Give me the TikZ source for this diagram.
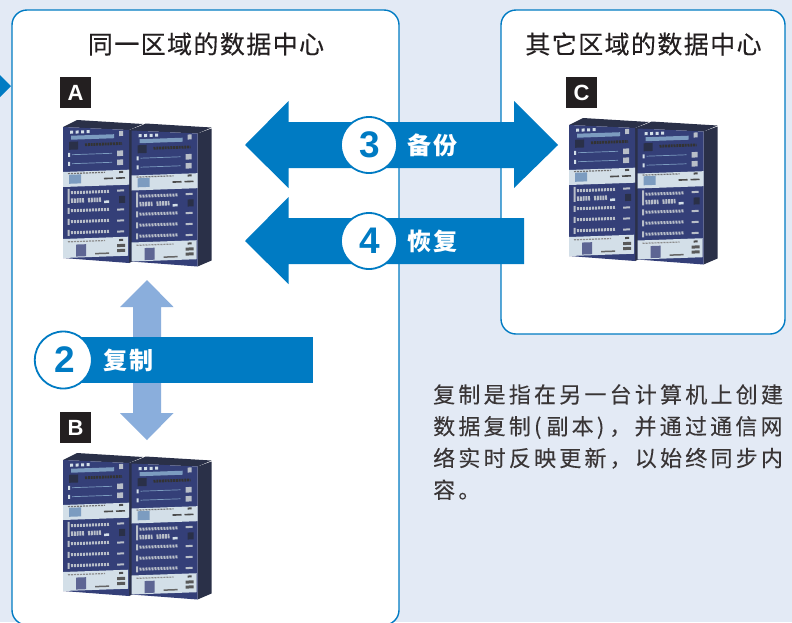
\documentclass[tikz,border=0pt]{standalone}
\usepackage{fontspec}
\setmainfont{Noto Sans CJK SC}
\newfontfamily\latinbold{Liberation Sans Bold}
\definecolor{bgblue}{HTML}{E3EAF5}
\definecolor{mainblue}{HTML}{007BC3}
\definecolor{lightblue}{HTML}{8AAEDC}
\definecolor{inkdark}{HTML}{231F20}
\definecolor{rackfront}{HTML}{343F78}
\definecolor{racktop}{HTML}{2A3048}
\definecolor{rackside}{HTML}{2A3048}
\definecolor{rackpale}{HTML}{D3DFE8}
\definecolor{rackstrip}{HTML}{B8BEC8}
\definecolor{rackbar}{HTML}{7C9CC0}
\tikzset{
  panel/.style={draw=mainblue,line width=1.4pt,fill=white,rounded corners=15pt},
  bigarrow/.style={fill=mainblue,draw=none},
  softarrow/.style={fill=lightblue,draw=none},
  numdisc/.style={circle,draw=mainblue,line width=1.8pt,fill=white,minimum size=56pt,inner sep=0pt,text=mainblue,font=\fontsize{37}{37}\selectfont\latinbold},
  tag/.style={fill=inkdark,minimum size=31pt,inner sep=0pt,text=white,font=\fontsize{22}{22}\selectfont\latinbold},
  heading/.style={inner sep=0pt,text=inkdark,font=\fontsize{25}{25}\selectfont\addfontfeature{LetterSpace=5.6,FakeBold=0.25}},
  barlabel/.style={inner sep=0pt,text=white,anchor=west,font=\fontsize{24}{24}\selectfont\bfseries\addfontfeature{LetterSpace=9}},
  strip/.style={draw=rackstrip,line width=3pt,dash pattern=on 2pt off 1pt},
  shortstrip/.style={draw=rackstrip,line width=4.5pt,dash pattern=on 2pt off 0.8pt},
  darkstrip/.style={draw=black!80,line width=2.8pt,dash pattern=on 2pt off 0.8pt},
  thinstrip/.style={draw=rackbar,line width=0.7pt},
  palebit/.style={fill=rackpale,draw=none},
  darkbit/.style={fill=racktop,draw=none},
  rackunit/.pic={
    \fill[rackside] (66,3) -- (80,-2) -- (80,130) -- (66,136) -- cycle;
    \fill[racktop] (0,0) -- (14,-7) -- (80,-3) -- (66,3) -- cycle;
    \fill[rackfront] (0,0) -- (66,3) -- (66,136) -- (0,131) -- cycle;
    \begin{scope}[yslant=0.035]
      \foreach \i in {0,1,2,3} \fill[palebit] (7+\i*5.5,4) rectangle ++(3,3);
      \fill[rackbar] (8,9) rectangle (51,13);
      \fill[rackstrip] (56,6) rectangle (60,11);
      \fill[darkbit] (6,15) rectangle (15,23);
      \draw[darkstrip] (22,18.5) -- (59,18.5);
      \fill[palebit] (5,26) rectangle (7,30);
      \draw[thinstrip] (9,28) -- (49,28);
      \fill[rackstrip] (54,25.5) rectangle (60,31);
      \fill[palebit] (5,35) rectangle (7,39);
      \draw[thinstrip] (9,37) -- (49,37);
      \fill[rackstrip] (54,34.5) rectangle (60,40);
      \fill[rackpale] (0,45) rectangle (66,60);
      \fill[rackbar] (6,48) rectangle (18,57);
      \draw[draw=black!55,line width=1.2pt,dash pattern=on 2pt off 1pt] (5,46.8) -- (42,46.8);
      \draw[draw=black!70,line width=1.6pt] (41,53) -- (50,53) (53,53) -- (62,53);
      \fill[black!70] (56,46) rectangle (60,48);
      \fill[rackstrip] (4.5,62) rectangle (6.5,77);
      \draw[strip] (8,66) -- (46,66);
      \draw[shortstrip] (8,74) -- (21,74);
      \draw[shortstrip] (25,74) -- (38,74);
      \fill[palebit] (41,75) rectangle (46,77.5);
      \fill[racktop] (56,71) rectangle (62,78);
      \fill[rackstrip] (54,64.5) rectangle (61,66.5);
      \fill[rackstrip] (4.5,81) rectangle (6.5,87);
      \draw[strip] (8,84) -- (46,84);
      \fill[rackstrip] (54,83.5) rectangle (61,85.5);
      \fill[rackstrip] (4.5,92) rectangle (6.5,98);
      \draw[strip] (8,95) -- (46,95);
      \fill[rackstrip] (54,94.5) rectangle (61,96.5);
      \fill[rackstrip] (4.5,103) rectangle (6.5,109);
      \draw[strip] (8,106) -- (46,106);
      \fill[rackstrip] (54,105.5) rectangle (61,107.5);
      \fill[rackpale] (0,112) rectangle (65,131);
      \draw[draw=black!45,line width=1.2pt,dash pattern=on 2pt off 1pt] (5,115) -- (42,115);
      \fill[rackfront!80] (13,118) rectangle (23,130);
      \fill[black!65] (54,119) rectangle (62,122);
      \fill[black!65] (54,124) rectangle (62,127);
      \fill[black!60] (32,127) rectangle (46,128.5);
      \fill[black!70] (56,114) rectangle (60,116);
    \end{scope}
  },
  rackpair/.pic={
    \pic at (0,0) {rackunit};
    \pic at (68.5,3.5) {rackunit};
  }
}
\begin{document}
\begin{tikzpicture}[x=1pt,y=-1pt]
\useasboundingbox (0,0) rectangle (792,622);
\fill[bgblue] (0,0) rectangle (792,622);
\fill[mainblue] (0,75) -- (11,86) -- (0,97) -- cycle;
\begin{scope}
\clip (0,0) rectangle (792,622);
\draw[panel] (12,10) rectangle (399,625);
\end{scope}
\draw[panel] (501,10) rectangle (785,334);
\node[heading] (samehead) at (206,44) {同一区域的数据中心};
\node[heading] (otherhead) at (643.5,44) {其它区域的数据中心};
\node[tag] (tagA) at (75.5,92.5) {A};
\node[tag] (tagB) at (75.5,427.5) {B};
\node[tag] (tagC) at (581.5,92.5) {C};
\pic at (63,127) {rackpair};
\pic at (63,460) {rackpair};
\pic at (569,125) {rackpair};
\fill[softarrow] (147,280) -- (173.5,307) -- (161,307) -- (161,413) -- (173.5,413) -- (147,440) -- (120,413) -- (133,413) -- (133,307) -- (120,307) -- cycle;
\fill[bigarrow] (64,337) rectangle (313,383);
\node[numdisc,minimum size=57pt] (two) at (63.3,360) {\hspace{2pt}2};
\node[barlabel] (twolabel) at (103,360) {复制};
\fill[bigarrow] (245,145) -- (288.5,101) -- (288.5,122) -- (514,122) -- (514,101) -- (558,145) -- (514,188) -- (514,168) -- (288.5,168) -- (288.5,188) -- cycle;
\node[numdisc] (three) at (369,145) {\hspace{1pt}3};
\node[barlabel] (threelabel) at (407,145) {备份};
\fill[bigarrow] (245,241) -- (288.5,197) -- (288.5,218) -- (524,218) -- (524,264) -- (288.5,264) -- (288.5,284) -- cycle;
\node[numdisc] (four) at (369,241) {\hspace{1pt}4};
\node[barlabel] (fourlabel) at (407,241) {恢复};
\node[anchor=north west,inner sep=0pt,align=left,text=inkdark!90,font=\fontsize{22}{31.8}\selectfont\addfontfeature{LetterSpace=14.6,FakeBold=0.12}] (note) at (433,384) {复制是指在另一台计算机上创建\\数据复制(\hspace{5pt}副本)\hspace{5pt}，并通过通信网\\络实时反映更新，以始终同步内\\容。};
\end{tikzpicture}
\end{document}
